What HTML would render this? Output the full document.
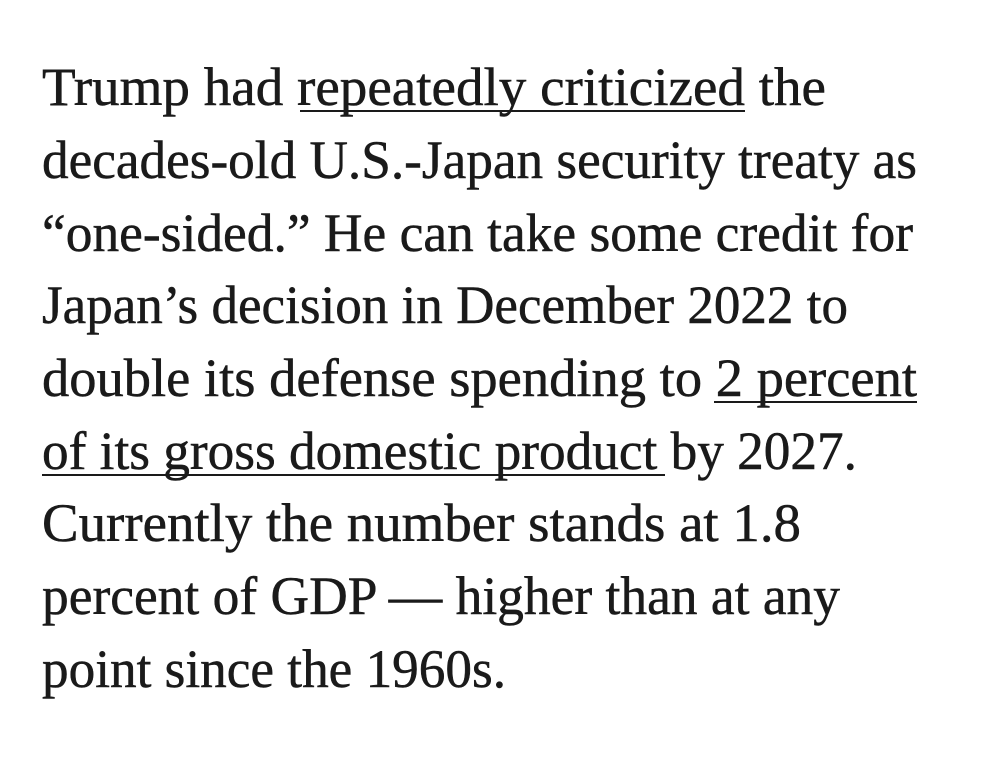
<!DOCTYPE html>
<html><head><meta charset="utf-8"><style>
html,body{margin:0;padding:0;background:#fff;}
svg{display:block;}
text{font-family:"Liberation Serif","DejaVu Serif",serif;font-size:54px;fill:#1a1a1a;stroke:#1a1a1a;stroke-width:0.5;}
</style></head><body>
<svg width="1000" height="759" viewBox="0 0 1000 759">
<text x="42" y="105" textLength="784" lengthAdjust="spacingAndGlyphs">Trump had repeatedly criticized the</text>
<line x1="300" y1="111" x2="745" y2="111" stroke="#1a1a1a" stroke-width="2"/>
<text x="42" y="178" textLength="875" lengthAdjust="spacingAndGlyphs">decades-old U.S.-Japan security treaty as</text>
<text x="42" y="251" textLength="871" lengthAdjust="spacingAndGlyphs">“one-sided.” He can take some credit for</text>
<text x="42" y="323" textLength="806" lengthAdjust="spacingAndGlyphs">Japan’s decision in December 2022 to</text>
<text x="42" y="396" textLength="875" lengthAdjust="spacingAndGlyphs">double its defense spending to 2 percent</text>
<line x1="714" y1="402" x2="917" y2="402" stroke="#1a1a1a" stroke-width="2"/>
<text x="42" y="469" textLength="815" lengthAdjust="spacingAndGlyphs">of its gross domestic product by 2027.</text>
<line x1="42" y1="475" x2="665" y2="475" stroke="#1a1a1a" stroke-width="2"/>
<text x="42" y="541" textLength="759" lengthAdjust="spacingAndGlyphs">Currently the number stands at 1.8</text>
<text x="42" y="614" textLength="798" lengthAdjust="spacingAndGlyphs">percent of GDP — higher than at any</text>
<text x="42" y="687" textLength="464" lengthAdjust="spacingAndGlyphs">point since the 1960s.</text>
</svg>
</body></html>
